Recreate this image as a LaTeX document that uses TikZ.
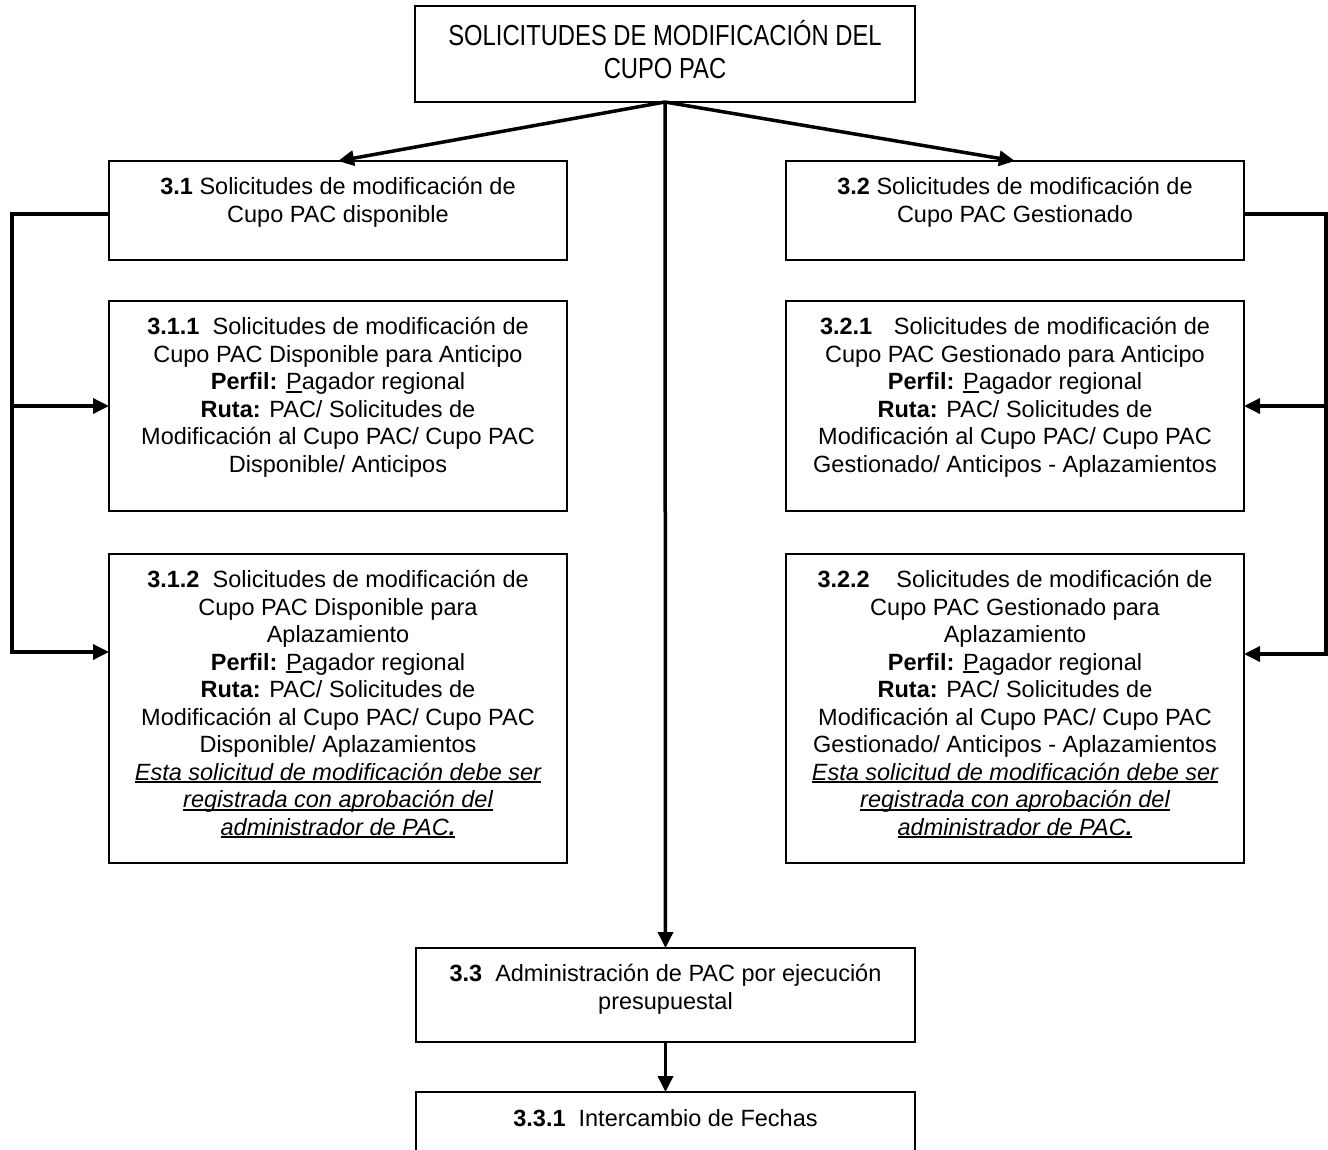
\documentclass[tikz,border=0pt]{standalone}
\usepackage{fontspec}
\setmainfont{Liberation Sans}
\newfontfamily\narrowfont[FakeStretch=0.82]{Liberation Sans}
\usetikzlibrary{arrows.meta}

\newcommand{\myul}[1]{\leavevmode\setbox0\hbox{#1}\rlap{\rule[-3pt]{\wd0}{1.6pt}}\box0}
\newcommand{\bxt}[4]{\parbox[c][#2][t]{#1}{\centering\vspace*{#3}\rule{0pt}{25pt}#4\par}}

\tikzset{
  box/.style={draw, line width=1.7pt, inner sep=0pt, outer sep=0pt, anchor=north west,
    font=\fontsize{23.5pt}{27.5pt}\selectfont},
  conn/.style={line width=3.5pt, line join=miter},
  arr/.style={conn, -{Triangle[length=16pt,width=15pt]}}
}

\begin{document}
\begin{tikzpicture}[x=1pt,y=-1pt]
\useasboundingbox (0,0) rectangle (1328,1149);
\fill[white] (0,0) rectangle (1328,1149);

\node[box, font=\narrowfont\fontsize{29pt}{33pt}\selectfont] (top) at (415,6)
  {\bxt{500pt}{96pt}{14.4pt}{SOLICITUDES DE MODIFICACIÓN DEL\\CUPO PAC}};

\node[box] (b31) at (109,161)
  {\bxt{458pt}{99pt}{8.5pt}{\textbf{3.1} Solicitudes de modificación de\\Cupo PAC disponible}};
\node[box] (b32) at (786,161)
  {\bxt{458pt}{99pt}{8.5pt}{\textbf{3.2} Solicitudes de modificación de\\Cupo PAC Gestionado}};

\node[box] (b311) at (109,301)
  {\bxt{458pt}{210pt}{8.5pt}{\textbf{3.1.1}\hspace{6.5pt} Solicitudes de modificación de\\
   Cupo PAC Disponible para Anticipo\\
   \textbf{Perfil:} \myul{P}agador regional\\
   \textbf{Ruta:} PAC/ Solicitudes de\\
   Modificación al Cupo PAC/ Cupo PAC\\
   Disponible/ Anticipos}};
\node[box] (b321) at (786,301)
  {\bxt{458pt}{210pt}{8.5pt}{\textbf{3.2.1}\hspace{15pt} Solicitudes de modificación de\\
   Cupo PAC Gestionado para Anticipo\\
   \textbf{Perfil:} \myul{P}agador regional\\
   \textbf{Ruta:} PAC/ Solicitudes de\\
   Modificación al Cupo PAC/ Cupo PAC\\
   Gestionado/ Anticipos - Aplazamientos}};

\node[box] (b312) at (109,554)
  {\bxt{458pt}{309pt}{8.5pt}{\textbf{3.1.2}\hspace{6.5pt} Solicitudes de modificación de\\
   Cupo PAC Disponible para\\
   Aplazamiento\\
   \textbf{Perfil:} \myul{P}agador regional\\
   \textbf{Ruta:} PAC/ Solicitudes de\\
   Modificación al Cupo PAC/ Cupo PAC\\
   Disponible/ Aplazamientos\\
   \myul{\itshape Esta solicitud de modificación debe ser}\\
   \myul{\itshape registrada con aprobación del}\\
   \myul{\itshape administrador de PAC\textbf{.}}}};
\node[box] (b322) at (786,554)
  {\bxt{458pt}{309pt}{8.5pt}{\textbf{3.2.2}\hspace{20pt} Solicitudes de modificación de\\
   Cupo PAC Gestionado para\\
   Aplazamiento\\
   \textbf{Perfil:} \myul{P}agador regional\\
   \textbf{Ruta:} PAC/ Solicitudes de\\
   Modificación al Cupo PAC/ Cupo PAC\\
   Gestionado/ Anticipos - Aplazamientos\\
   \myul{\itshape Esta solicitud de modificación debe ser}\\
   \myul{\itshape registrada con aprobación del}\\
   \myul{\itshape administrador de PAC\textbf{.}}}};

\node[box] (b33) at (416,948)
  {\bxt{499pt}{94pt}{8.5pt}{\textbf{3.3}\hspace{6.5pt} Administración de PAC por ejecución\\presupuestal}};
\node[box] (b331) at (416,1092)
  {\bxt{499pt}{100pt}{9.5pt}{\textbf{3.3.1}\hspace{6.5pt} Intercambio de Fechas}};

\coordinate (lt) at (12,214);
\coordinate (lb) at (12,652);
\coordinate (rt) at (1326,214);
\coordinate (rb) at (1326,654);

\draw[arr] (top.south) -- (b31.north);
\draw[arr] (top.south) -- (b32.north);
\draw[arr] (top.south) -- (b33.north);
\draw[arr] (b33.south) -- (b331.north);

\draw[arr] ([yshift=-3.5pt]b31.west) -- (lt) -- (lb) -- (lb -| b312.west);
\draw[arr] (lt |- b311.west) -- (b311.west);

\draw[arr] ([yshift=-3.5pt]b32.east) -- (rt) -- (rb) -- (rb -| b322.east);
\draw[arr] (rt |- b321.east) -- (b321.east);
\end{tikzpicture}
\end{document}
